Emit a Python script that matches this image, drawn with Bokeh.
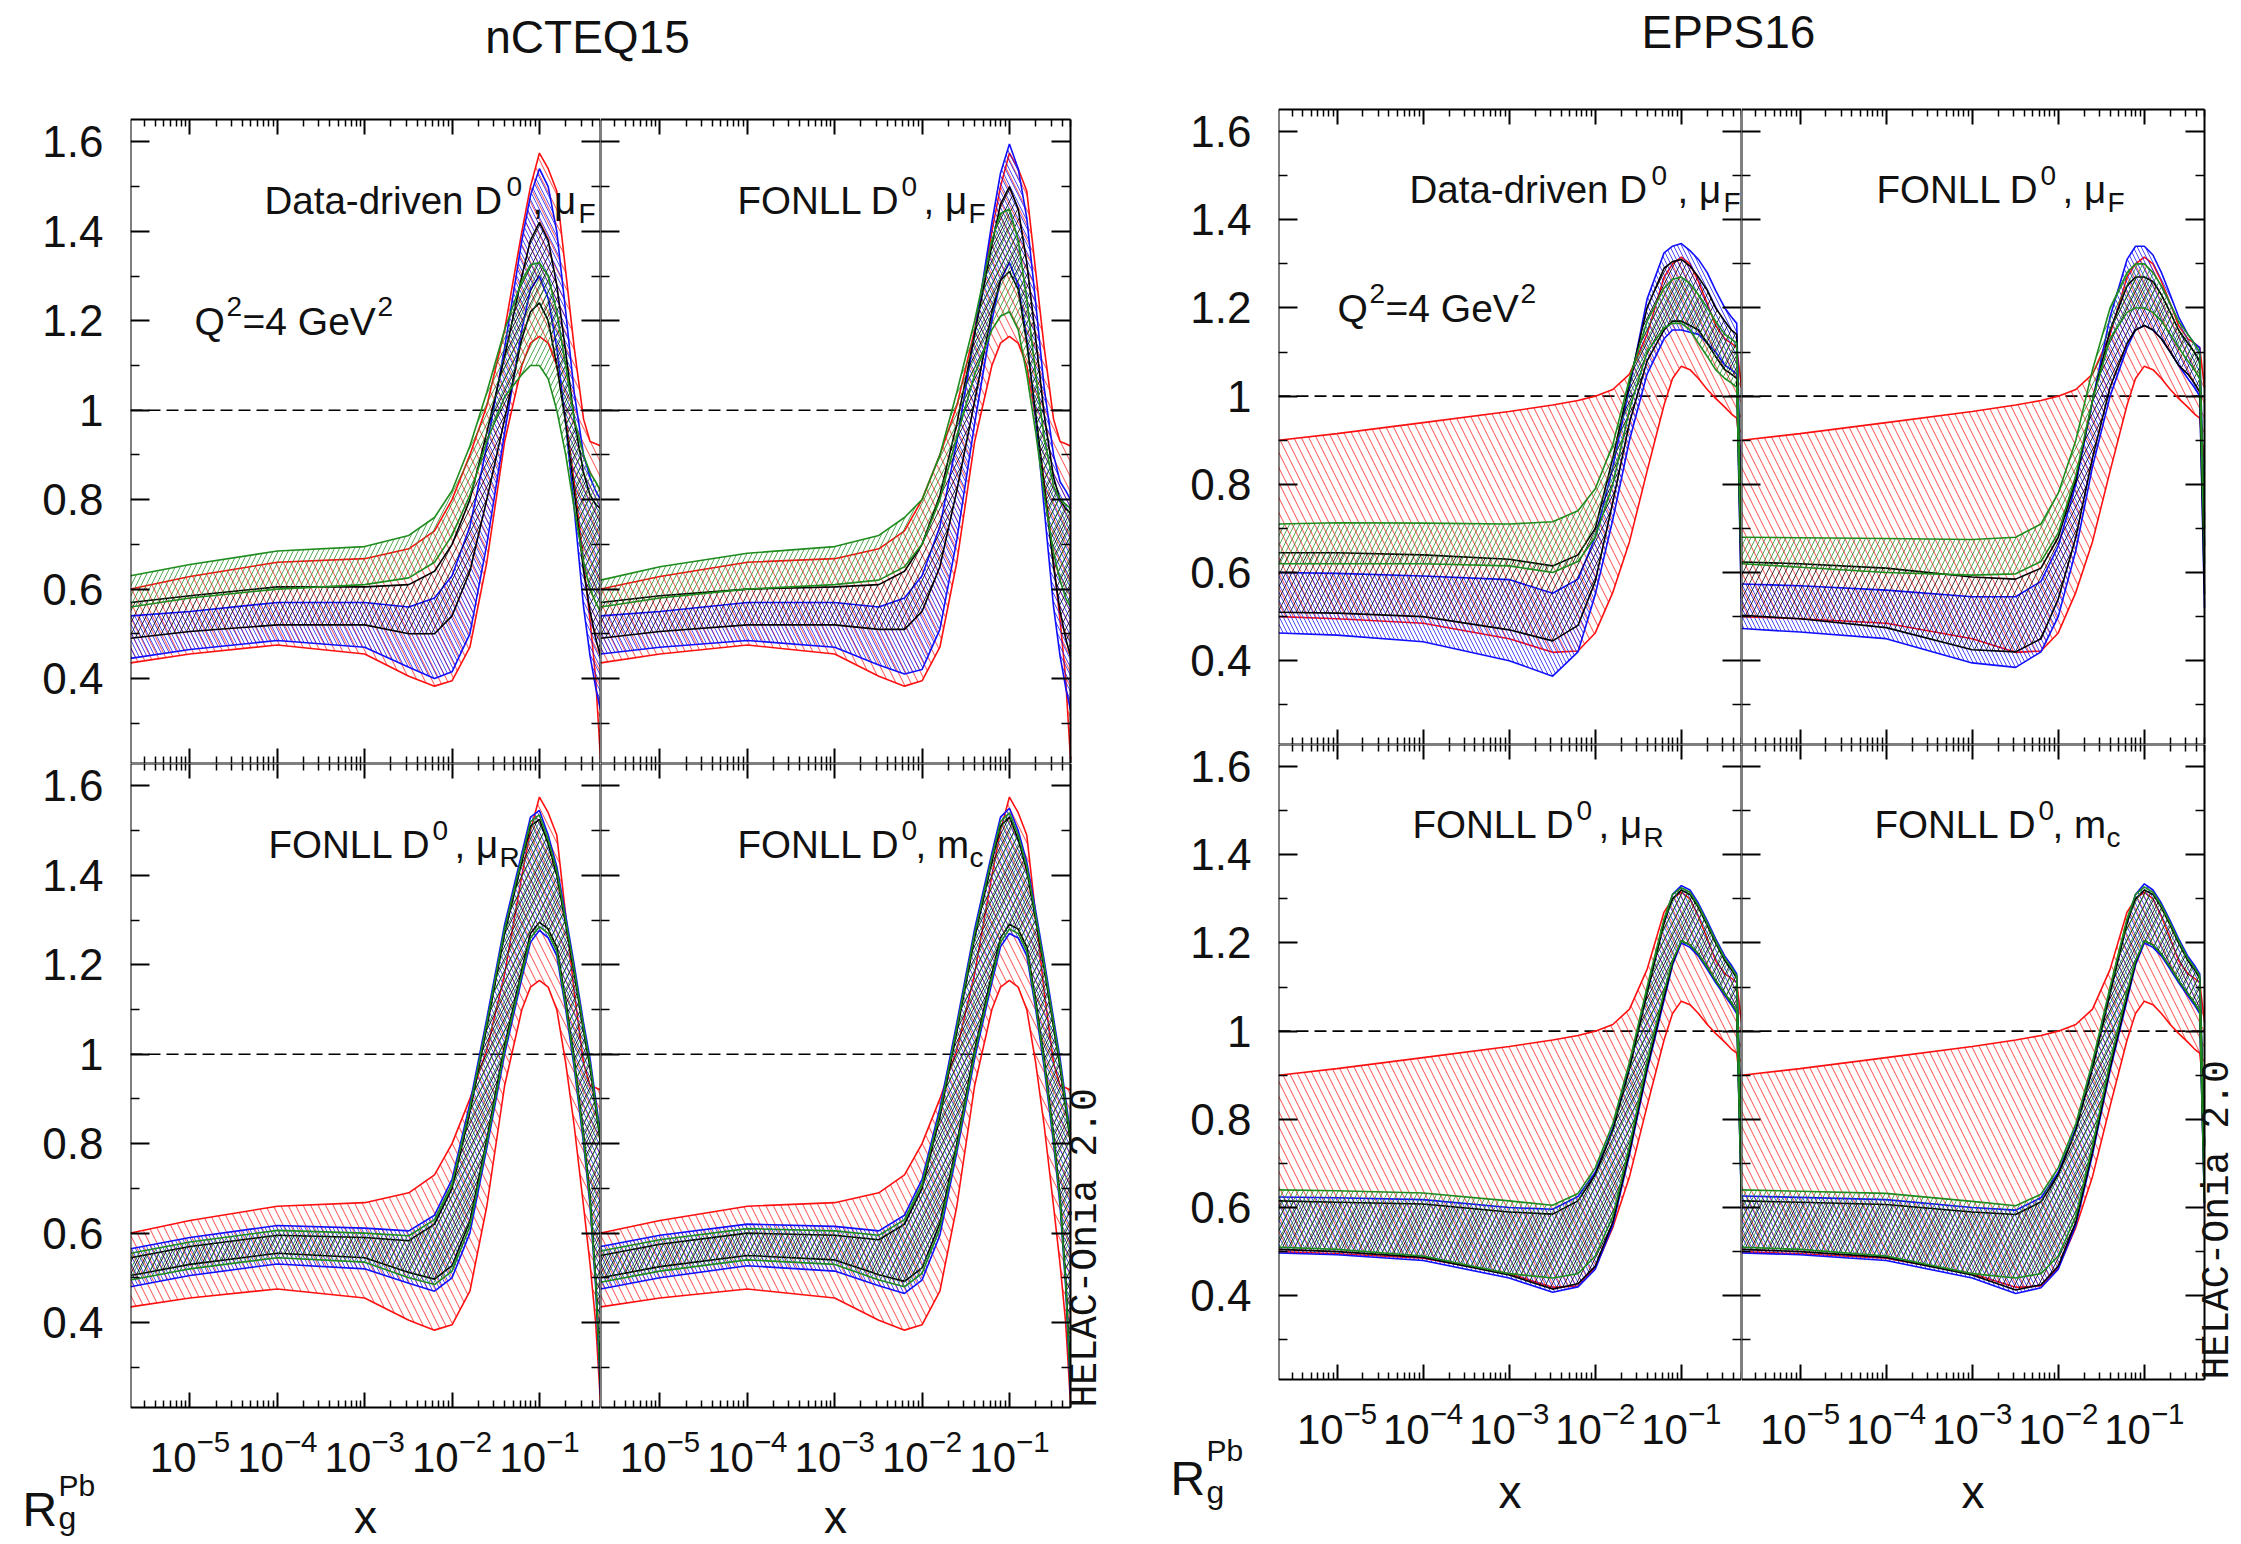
import math
from bokeh.plotting import figure
from bokeh.layouts import row, column
from bokeh.models import Range1d, LogAxis, LinearAxis, FixedTicker, Label
from bokeh.embed import file_html
from bokeh.resources import INLINE

# ---------------- data ----------------
X = [2.1e-6, 1.0e-5, 1.0e-4, 1.0e-3, 3.2e-3, 6.3e-3, 1.0e-2, 1.6e-2, 2.5e-2, 4.0e-2, 6.3e-2,
     7.9e-2, 0.10, 0.126, 0.158, 0.20, 0.25, 0.32, 0.38, 0.44, 0.50]

# nCTEQ15 original (red)
NCTEQ_RED_UP = [0.60, 0.628, 0.66, 0.668, 0.69, 0.73, 0.80, 0.90, 1.01, 1.18, 1.40, 1.50, 1.575, 1.54, 1.49, 1.31, 1.14, 0.98, 0.93, 0.925, 0.92]
NCTEQ_RED_LO = [0.435, 0.455, 0.475, 0.455, 0.405, 0.383, 0.395, 0.47, 0.66, 0.93, 1.10, 1.15, 1.165, 1.15, 1.10, 0.98, 0.84, 0.66, 0.53, 0.40, 0.22]

# nCTEQ15, Data-driven D0, muF
N_DDF_GREEN_UP = [0.63, 0.655, 0.685, 0.695, 0.72, 0.76, 0.82, 0.92, 1.04, 1.18, 1.29, 1.325, 1.33, 1.30, 1.22, 1.10, 0.98, 0.90, 0.86, 0.84, 0.82]
N_DDF_GREEN_LO = [0.56, 0.58, 0.60, 0.61, 0.625, 0.66, 0.72, 0.81, 0.93, 1.03, 1.08, 1.10, 1.10, 1.07, 1.00, 0.90, 0.78, 0.66, 0.60, 0.57, 0.55]
N_DDF_BLACK_UP = [0.57, 0.585, 0.605, 0.605, 0.61, 0.64, 0.70, 0.80, 0.95, 1.12, 1.30, 1.38, 1.42, 1.38, 1.28, 1.13, 0.98, 0.86, 0.81, 0.79, 0.78]
N_DDF_BLACK_LO = [0.49, 0.505, 0.52, 0.52, 0.50, 0.50, 0.54, 0.64, 0.80, 0.98, 1.16, 1.22, 1.24, 1.20, 1.10, 0.97, 0.82, 0.64, 0.55, 0.49, 0.45]
N_DDF_BLUE_UP = [0.54, 0.55, 0.57, 0.57, 0.56, 0.58, 0.63, 0.74, 0.92, 1.14, 1.38, 1.48, 1.54, 1.50, 1.40, 1.22, 1.04, 0.90, 0.85, 0.82, 0.80]
N_DDF_BLUE_LO = [0.445, 0.465, 0.485, 0.47, 0.425, 0.40, 0.415, 0.50, 0.70, 0.95, 1.18, 1.27, 1.30, 1.25, 1.14, 0.97, 0.78, 0.56, 0.45, 0.38, 0.33]

# nCTEQ15, FONLL D0, muF
N_FF_GREEN_UP = [0.62, 0.65, 0.68, 0.695, 0.72, 0.76, 0.80, 0.90, 1.04, 1.20, 1.38, 1.44, 1.45, 1.38, 1.25, 1.08, 0.94, 0.83, 0.80, 0.79, 0.78]
N_FF_GREEN_LO = [0.56, 0.58, 0.60, 0.61, 0.62, 0.65, 0.70, 0.80, 0.94, 1.08, 1.18, 1.21, 1.22, 1.18, 1.08, 0.95, 0.81, 0.68, 0.62, 0.58, 0.56]
N_FF_BLACK_UP = [0.57, 0.585, 0.60, 0.605, 0.61, 0.64, 0.70, 0.81, 0.97, 1.17, 1.37, 1.46, 1.50, 1.45, 1.33, 1.16, 0.99, 0.85, 0.80, 0.78, 0.77]
N_FF_BLACK_LO = [0.49, 0.505, 0.52, 0.52, 0.51, 0.51, 0.55, 0.65, 0.82, 1.02, 1.22, 1.29, 1.31, 1.27, 1.15, 0.99, 0.83, 0.65, 0.55, 0.49, 0.45]
N_FF_BLUE_UP = [0.54, 0.55, 0.57, 0.57, 0.56, 0.58, 0.63, 0.74, 0.93, 1.17, 1.42, 1.53, 1.595, 1.54, 1.43, 1.24, 1.05, 0.90, 0.84, 0.82, 0.80]
N_FF_BLUE_LO = [0.455, 0.47, 0.485, 0.47, 0.43, 0.41, 0.42, 0.51, 0.71, 0.97, 1.20, 1.29, 1.33, 1.28, 1.16, 0.98, 0.78, 0.56, 0.45, 0.38, 0.33]

# nCTEQ15, FONLL D0, muR
N_FR_BLUE_UP = [0.565, 0.59, 0.617, 0.611, 0.605, 0.64, 0.72, 0.89, 1.08, 1.29, 1.45, 1.53, 1.545, 1.49, 1.42, 1.31, 1.20, 1.07, 0.99, 0.90, 0.82]
N_FR_BLUE_LO = [0.48, 0.505, 0.531, 0.52, 0.488, 0.47, 0.50, 0.60, 0.79, 1.00, 1.17, 1.25, 1.277, 1.26, 1.22, 1.10, 0.97, 0.80, 0.66, 0.48, 0.24]
N_FR_GREEN_UP = [0.555, 0.58, 0.606, 0.60, 0.594, 0.63, 0.71, 0.88, 1.07, 1.28, 1.44, 1.52, 1.535, 1.48, 1.41, 1.30, 1.19, 1.06, 0.98, 0.89, 0.81]
N_FR_GREEN_LO = [0.495, 0.52, 0.545, 0.535, 0.50, 0.485, 0.515, 0.615, 0.80, 1.01, 1.18, 1.26, 1.285, 1.27, 1.23, 1.11, 0.98, 0.81, 0.67, 0.49, 0.26]
N_FR_BLACK_UP = [0.545, 0.57, 0.595, 0.59, 0.583, 0.62, 0.70, 0.87, 1.06, 1.27, 1.43, 1.51, 1.525, 1.47, 1.40, 1.29, 1.18, 1.05, 0.97, 0.88, 0.80]
N_FR_BLACK_LO = [0.505, 0.53, 0.555, 0.545, 0.512, 0.497, 0.527, 0.627, 0.81, 1.02, 1.19, 1.27, 1.295, 1.28, 1.24, 1.12, 0.99, 0.82, 0.68, 0.50, 0.27]

# nCTEQ15, FONLL D0, mc
N_FM_BLUE_UP = [0.57, 0.595, 0.62, 0.615, 0.605, 0.64, 0.72, 0.88, 1.07, 1.28, 1.45, 1.53, 1.55, 1.50, 1.43, 1.32, 1.21, 1.08, 0.99, 0.90, 0.82]
N_FM_BLUE_LO = [0.475, 0.50, 0.527, 0.515, 0.482, 0.465, 0.495, 0.595, 0.78, 0.99, 1.16, 1.24, 1.27, 1.26, 1.22, 1.10, 0.97, 0.80, 0.66, 0.48, 0.24]
N_FM_GREEN_UP = [0.56, 0.585, 0.61, 0.605, 0.595, 0.63, 0.71, 0.87, 1.06, 1.27, 1.44, 1.52, 1.54, 1.49, 1.42, 1.31, 1.20, 1.07, 0.98, 0.89, 0.81]
N_FM_GREEN_LO = [0.49, 0.515, 0.54, 0.53, 0.495, 0.48, 0.51, 0.61, 0.79, 1.00, 1.17, 1.25, 1.28, 1.27, 1.23, 1.11, 0.98, 0.81, 0.67, 0.49, 0.26]
N_FM_BLACK_UP = [0.55, 0.575, 0.60, 0.595, 0.585, 0.62, 0.70, 0.86, 1.05, 1.26, 1.43, 1.51, 1.53, 1.48, 1.41, 1.30, 1.19, 1.06, 0.97, 0.88, 0.80]
N_FM_BLACK_LO = [0.50, 0.525, 0.55, 0.54, 0.507, 0.492, 0.522, 0.622, 0.80, 1.01, 1.18, 1.26, 1.29, 1.28, 1.24, 1.12, 0.99, 0.82, 0.68, 0.50, 0.27]

# EPPS16 original (red)
EPPS_RED_UP = [0.90, 0.915, 0.94, 0.965, 0.98, 0.99, 1.0, 1.015, 1.05, 1.14, 1.27, 1.30, 1.315, 1.30, 1.26, 1.21, 1.16, 1.13, 1.12, 1.11, 1.02]
EPPS_RED_LO = [0.50, 0.495, 0.485, 0.45, 0.419, 0.422, 0.463, 0.555, 0.67, 0.83, 0.98, 1.04, 1.068, 1.06, 1.04, 1.015, 0.995, 0.975, 0.96, 0.95, 0.85]

# EPPS16, Data-driven D0, muF
E_DDF_BLUE_UP = [0.60, 0.598, 0.592, 0.584, 0.553, 0.585, 0.68, 0.84, 1.02, 1.22, 1.325, 1.34, 1.346, 1.33, 1.31, 1.28, 1.24, 1.20, 1.18, 1.165, 0.72]
E_DDF_BLUE_LO = [0.463, 0.458, 0.443, 0.40, 0.365, 0.42, 0.55, 0.72, 0.90, 1.05, 1.13, 1.15, 1.15, 1.145, 1.14, 1.12, 1.10, 1.07, 1.06, 1.05, 0.50]
E_DDF_GREEN_UP = [0.71, 0.713, 0.712, 0.71, 0.715, 0.74, 0.79, 0.89, 1.04, 1.17, 1.245, 1.265, 1.27, 1.255, 1.23, 1.20, 1.17, 1.14, 1.13, 1.12, 0.68]
E_DDF_GREEN_LO = [0.62, 0.62, 0.62, 0.615, 0.60, 0.625, 0.68, 0.80, 0.97, 1.10, 1.155, 1.165, 1.165, 1.15, 1.12, 1.09, 1.06, 1.04, 1.03, 1.02, 0.60]
E_DDF_BLACK_UP = [0.645, 0.645, 0.64, 0.63, 0.615, 0.64, 0.70, 0.86, 1.03, 1.20, 1.29, 1.305, 1.31, 1.295, 1.27, 1.24, 1.20, 1.17, 1.15, 1.14, 0.66]
E_DDF_BLACK_LO = [0.51, 0.508, 0.50, 0.47, 0.445, 0.48, 0.58, 0.76, 0.94, 1.08, 1.15, 1.17, 1.17, 1.16, 1.15, 1.12, 1.09, 1.06, 1.05, 1.04, 0.54]

# EPPS16, FONLL D0, muF
E_FF_GREEN_UP = [0.68, 0.679, 0.677, 0.675, 0.68, 0.71, 0.78, 0.90, 1.06, 1.20, 1.28, 1.30, 1.30, 1.28, 1.25, 1.21, 1.17, 1.14, 1.12, 1.10, 0.70]
E_FF_GREEN_LO = [0.62, 0.612, 0.60, 0.594, 0.597, 0.625, 0.69, 0.82, 0.99, 1.13, 1.19, 1.20, 1.20, 1.19, 1.17, 1.14, 1.11, 1.08, 1.06, 1.04, 0.62]
E_FF_BLACK_UP = [0.624, 0.62, 0.61, 0.59, 0.585, 0.61, 0.68, 0.81, 0.99, 1.15, 1.25, 1.27, 1.27, 1.26, 1.23, 1.19, 1.15, 1.12, 1.10, 1.08, 0.66]
E_FF_BLACK_LO = [0.503, 0.495, 0.475, 0.425, 0.42, 0.45, 0.54, 0.68, 0.86, 1.02, 1.12, 1.15, 1.16, 1.15, 1.13, 1.10, 1.07, 1.05, 1.03, 1.01, 0.55]
E_FF_BLUE_UP = [0.574, 0.57, 0.56, 0.545, 0.545, 0.58, 0.66, 0.80, 0.99, 1.18, 1.31, 1.34, 1.34, 1.32, 1.28, 1.23, 1.18, 1.14, 1.12, 1.11, 0.72]
E_FF_BLUE_LO = [0.473, 0.465, 0.45, 0.395, 0.385, 0.42, 0.50, 0.65, 0.84, 1.00, 1.11, 1.15, 1.16, 1.15, 1.13, 1.10, 1.07, 1.04, 1.02, 1.00, 0.52]

# EPPS16, FONLL D0, muR
E_FR_BLUE_UP = [0.624, 0.622, 0.618, 0.60, 0.596, 0.625, 0.68, 0.78, 0.92, 1.09, 1.25, 1.31, 1.33, 1.32, 1.29, 1.25, 1.21, 1.17, 1.15, 1.13, 0.75]
E_FR_BLUE_LO = [0.497, 0.493, 0.48, 0.44, 0.408, 0.42, 0.46, 0.56, 0.72, 0.91, 1.07, 1.15, 1.20, 1.19, 1.17, 1.14, 1.11, 1.08, 1.06, 1.04, 0.60]
E_FR_GREEN_UP = [0.64, 0.638, 0.633, 0.615, 0.605, 0.632, 0.69, 0.79, 0.93, 1.10, 1.255, 1.31, 1.325, 1.315, 1.285, 1.245, 1.205, 1.165, 1.145, 1.125, 0.74]
E_FR_GREEN_LO = [0.51, 0.505, 0.49, 0.45, 0.44, 0.45, 0.49, 0.58, 0.74, 0.93, 1.09, 1.16, 1.205, 1.195, 1.175, 1.145, 1.115, 1.085, 1.065, 1.045, 0.61]
E_FR_BLACK_UP = [0.615, 0.612, 0.608, 0.59, 0.585, 0.615, 0.675, 0.775, 0.915, 1.085, 1.245, 1.30, 1.32, 1.31, 1.28, 1.24, 1.20, 1.16, 1.14, 1.12, 0.74]
E_FR_BLACK_LO = [0.505, 0.50, 0.487, 0.447, 0.415, 0.427, 0.467, 0.567, 0.727, 0.917, 1.077, 1.155, 1.205, 1.195, 1.175, 1.145, 1.115, 1.085, 1.065, 1.045, 0.61]

# EPPS16, FONLL D0, mc
E_FM_BLUE_UP = [0.626, 0.623, 0.618, 0.60, 0.594, 0.622, 0.68, 0.78, 0.92, 1.09, 1.25, 1.31, 1.334, 1.32, 1.29, 1.25, 1.21, 1.17, 1.15, 1.13, 0.75]
E_FM_BLUE_LO = [0.497, 0.493, 0.48, 0.44, 0.405, 0.418, 0.46, 0.56, 0.72, 0.91, 1.07, 1.15, 1.20, 1.19, 1.17, 1.14, 1.11, 1.08, 1.06, 1.04, 0.60]
E_FM_GREEN_UP = [0.64, 0.637, 0.632, 0.614, 0.604, 0.63, 0.69, 0.79, 0.93, 1.10, 1.255, 1.31, 1.327, 1.315, 1.285, 1.245, 1.205, 1.165, 1.145, 1.125, 0.74]
E_FM_GREEN_LO = [0.51, 0.505, 0.49, 0.45, 0.44, 0.45, 0.49, 0.58, 0.74, 0.93, 1.09, 1.16, 1.205, 1.195, 1.175, 1.145, 1.115, 1.085, 1.065, 1.045, 0.61]
E_FM_BLACK_UP = [0.615, 0.612, 0.607, 0.59, 0.584, 0.613, 0.675, 0.775, 0.915, 1.085, 1.245, 1.30, 1.32, 1.31, 1.28, 1.24, 1.20, 1.16, 1.14, 1.12, 0.74]
E_FM_BLACK_LO = [0.505, 0.50, 0.487, 0.447, 0.413, 0.425, 0.467, 0.567, 0.727, 0.917, 1.077, 1.155, 1.205, 1.195, 1.175, 1.145, 1.115, 1.085, 1.065, 1.045, 0.61]

TITLES = ["nCTEQ15", "EPPS16"]
Y_TICKS = [0.4, 0.6, 0.8, 1.0, 1.2, 1.4, 1.6]
Y_TICK_LABELS = ["0.4", "0.6", "0.8", "1", "1.2", "1.4", "1.6"]
Y_MINOR = [0.3, 0.5, 0.7, 0.9, 1.1, 1.3, 1.5]
X_TICKS = [1e-5, 1e-4, 1e-3, 1e-2, 1e-1]
REF_Y = 1.0

# ---------------- styling ----------------
FONT = "Liberation Sans"
MONO = "Liberation Mono"
TXT = "#111111"
C_RED, C_BLUE, C_GREEN, C_BLACK = "#ff1010", "#1010ff", "#1e8c1e", "#000000"
X_LO, X_HI = 2.09e-6, 0.5
Y_LO, Y_HI = 0.21, 1.65
X_MINOR = [m * 10.0 ** e for e in range(-6, 0) for m in range(2, 10) if X_LO <= m * 10.0 ** e <= X_HI]
PAGE_H = 1544
TITLE_H = 100
MID = 0.3465   # distance baseline -> em-box middle, in em


def base_fig(w, h, xr, yr, **kw):
    f = figure(frame_width=w, frame_height=h, x_range=xr, y_range=yr,
               x_axis_location=None, y_axis_location=None, toolbar_location=None, tools="",
               output_backend="svg", min_border=0, background_fill_color="white",
               border_fill_color="white", **kw)
    f.outline_line_color = None
    f.grid.visible = False
    return f


def style_axis(ax, tick_in, labels, size, standoff):
    ax.axis_line_color = "black"
    ax.axis_line_width = 2
    ax.major_tick_line_color = "black"
    ax.major_tick_line_width = 2
    ax.minor_tick_line_color = "black"
    ax.minor_tick_line_width = 1.5
    ax.major_tick_in = tick_in
    ax.major_tick_out = 0
    ax.minor_tick_in = tick_in // 2
    ax.minor_tick_out = 0
    ax.axis_label = None
    if labels:
        ax.major_label_text_font = FONT
        ax.major_label_text_font_size = size
        ax.major_label_text_color = TXT
        ax.major_label_standoff = standoff
    else:
        ax.major_label_text_color = None
        ax.major_label_text_font_size = "0px"
        ax.major_label_standoff = 0


def make_panel(fw, fh, pad_r, pad_t, pad_b, xlab):
    """One panel; the frame covers the whole canvas, the panel box sits inside it."""
    lx0, lx1 = math.log10(X_LO), math.log10(X_HI)
    kx = fw / (lx1 - lx0)
    ky = fh / (Y_HI - Y_LO)
    xr = Range1d(X_LO, 10 ** (lx1 + pad_r / kx))
    yr = Range1d(Y_LO - pad_b / ky, Y_HI + pad_t / ky)
    p = base_fig(fw + pad_r, pad_t + fh + pad_b, xr, yr, x_axis_type="log")
    for loc, yloc, lab in (("below", Y_LO, xlab), ("above", Y_HI, False)):
        ax = LogAxis(ticker=FixedTicker(ticks=X_TICKS, minor_ticks=X_MINOR),
                     fixed_location=yloc, bounds=(X_LO, X_HI))
        style_axis(ax, 15, lab, "42px", 21)
        p.add_layout(ax, loc)
    for loc, xloc in (("left", X_LO), ("right", X_HI)):
        ax = LinearAxis(ticker=FixedTicker(ticks=Y_TICKS, minor_ticks=Y_MINOR),
                        fixed_location=xloc, bounds=(Y_LO, Y_HI))
        style_axis(ax, 19, False, "44px", 0)
        p.add_layout(ax, loc)
    p.line([X_LO, X_HI], [REF_Y, REF_Y], line_color="black", line_dash="12 6", line_width=1.6)
    return p


def ylab_fig(w, top_page, bot_page, frame_top, k):
    """Strip left of the panels that carries the y tick labels (same scale as the panel)."""
    yr = Range1d(Y_HI - (bot_page - frame_top) / k, Y_HI + (frame_top - top_page) / k)
    f = base_fig(w, bot_page - top_page, Range1d(0, w), yr)
    ax = LinearAxis(ticker=FixedTicker(ticks=Y_TICKS, minor_ticks=[]),
                    major_label_overrides=dict(zip(Y_TICKS, Y_TICK_LABELS)), fixed_location=w)
    ax.axis_line_color = None
    ax.major_tick_line_color = None
    ax.minor_tick_line_color = None
    ax.major_tick_in = 0
    ax.major_tick_out = 0
    ax.major_label_text_font = FONT
    ax.major_label_text_font_size = "44px"
    ax.major_label_text_color = TXT
    ax.major_label_standoff = 27
    f.add_layout(ax, "left")
    return f


def band(p, lo, up, color, pattern, scale):
    p.varea(x=X, y1=lo, y2=up, fill_color=color, fill_alpha=0.0,
            hatch_pattern=pattern, hatch_color=color, hatch_scale=scale,
            hatch_weight=1.0, hatch_alpha=0.75)
    p.line(X, up, line_color=color, line_width=1.6)
    p.line(X, lo, line_color=color, line_width=1.6)


def txt(p, text, x, y, size, dx=0, dy=0, align="left", font=FONT, angle=0.0, on_baseline=True):
    """Place text; dy gives the baseline offset (px), converted to an em-box middle anchor."""
    if on_baseline:
        dy = dy + MID * size
    p.add_layout(Label(x=x, y=y, x_offset=dx, y_offset=dy, text=text,
                       text_font=font, text_font_size=f"{size}px", text_color=TXT,
                       text_align=align, text_baseline="middle", angle=angle, angle_units="deg"))


def panel_label(p, kind, start):
    y = 1.438
    if kind == "DD_F":
        parts = [("Data-driven D", 0, 0, 38.5), ("0", 242, 18, 28), (", \u03bc", 268, 0, 38.5), ("F", 314, -9, 28)]
    elif kind == "FO_F":
        parts = [("FONLL D", 0, 0, 38.5), ("0", 164, 18, 28), (", \u03bc", 186, 0, 38.5), ("F", 231, -9, 28)]
    elif kind == "FO_R":
        parts = [("FONLL D", 0, 0, 38.5), ("0", 164, 18, 28), (", \u03bc", 186, 0, 38.5), ("R", 231, -9, 28)]
    else:
        parts = [("FONLL D", 0, 0, 38.5), ("0", 164, 18, 28), (", m", 178, 0, 38.5), ("c", 232, -9, 28)]
    for t, dx, dy, s in parts:
        txt(p, t, X_LO, y, s, dx=start + dx, dy=dy)


def q2_label(p, start):
    for t, dx, dy, s in [("Q", 0, 0, 39), ("2", 32, 19, 28), ("=4 GeV", 48, 0, 39), ("2", 183, 19, 28)]:
        txt(p, t, X_LO, 1.167, s, dx=start + dx, dy=dy)


def fill_panel(p, red, bands, kind, start, q2start=None):
    band(p, red[1], red[0], C_RED, "\\", 15)
    for (up, lo), col, pat, sc in zip(bands, (C_BLUE, C_BLACK, C_GREEN), ("\\", "/", "/"), (8, 12, 10)):
        band(p, lo, up, col, pat, sc)
    panel_label(p, kind, start)
    if q2start is not None:
        q2_label(p, q2start)


def group(frame_top, fw, fh, pad_l, pad_r, split, red, panels, starts, q2start, rlab, xlab, helac_dx):
    pad_t = frame_top - TITLE_H
    pad_b = PAGE_H - (frame_top + 2 * fh)
    k = fh / (Y_HI - Y_LO)
    a_top = ylab_fig(pad_l, TITLE_H, split, frame_top, k)
    a_bot = ylab_fig(pad_l, split, PAGE_H, frame_top + fh, k)
    tl = make_panel(fw, fh, 0, pad_t, 0, False)
    tr = make_panel(fw, fh, pad_r, pad_t, 0, False)
    bl = make_panel(fw, fh, 0, 0, pad_b, True)
    br = make_panel(fw, fh, pad_r, 0, pad_b, True)
    for i, (p, (bands, kind), st) in enumerate(zip((tl, tr, bl, br), panels, starts)):
        fill_panel(p, red, bands, kind, st, q2start if i == 0 else None)
    xsize, xdy = xlab
    for p in (bl, br):
        txt(p, "x", X_LO, Y_LO, xsize, dx=fw / 2, dy=xdy, align="center")
    (rx, rdy), (px_, pdy), (gx, gdy) = rlab
    txt(a_bot, "R", rx, Y_LO, 48, dy=rdy)
    txt(a_bot, "Pb", px_, Y_LO, 30, dy=pdy)
    txt(a_bot, "g", gx, Y_LO, 32, dy=gdy)
    txt(br, "HELAC-Onia 2.0", X_HI, Y_LO, 38, dx=helac_dx, align="left",
        font=MONO, angle=90, on_baseline=False)
    return row(column(a_top, a_bot), column(row(tl, tr), row(bl, br)))


n_red = (NCTEQ_RED_UP, NCTEQ_RED_LO)
n_panels = [([(N_DDF_BLUE_UP, N_DDF_BLUE_LO), (N_DDF_BLACK_UP, N_DDF_BLACK_LO), (N_DDF_GREEN_UP, N_DDF_GREEN_LO)], "DD_F"),
            ([(N_FF_BLUE_UP, N_FF_BLUE_LO), (N_FF_BLACK_UP, N_FF_BLACK_LO), (N_FF_GREEN_UP, N_FF_GREEN_LO)], "FO_F"),
            ([(N_FR_BLUE_UP, N_FR_BLUE_LO), (N_FR_BLACK_UP, N_FR_BLACK_LO), (N_FR_GREEN_UP, N_FR_GREEN_LO)], "FO_R"),
            ([(N_FM_BLUE_UP, N_FM_BLUE_LO), (N_FM_BLACK_UP, N_FM_BLACK_LO), (N_FM_GREEN_UP, N_FM_GREEN_LO)], "FO_M")]
e_red = (EPPS_RED_UP, EPPS_RED_LO)
e_panels = [([(E_DDF_BLUE_UP, E_DDF_BLUE_LO), (E_DDF_BLACK_UP, E_DDF_BLACK_LO), (E_DDF_GREEN_UP, E_DDF_GREEN_LO)], "DD_F"),
            ([(E_FF_BLUE_UP, E_FF_BLUE_LO), (E_FF_BLACK_UP, E_FF_BLACK_LO), (E_FF_GREEN_UP, E_FF_GREEN_LO)], "FO_F"),
            ([(E_FR_BLUE_UP, E_FR_BLUE_LO), (E_FR_BLACK_UP, E_FR_BLACK_LO), (E_FR_GREEN_UP, E_FR_GREEN_LO)], "FO_R"),
            ([(E_FM_BLUE_UP, E_FM_BLUE_LO), (E_FM_BLACK_UP, E_FM_BLACK_LO), (E_FM_GREEN_UP, E_FM_GREEN_LO)], "FO_M")]

# left group: panels 470x644 at x 130..1070, y 119..1407 ; canvases x 0..1110
left = group(119, 470, 644, 130, 40, 735, n_red, n_panels, (134, 137, 138, 137), 64,
             ((22, -119), (58, -88), (58, -122)), (46, -125), 15)
# right group: panels 463x635 at x 1278..2204, y 109..1379 ; canvases x 1110..2241
right = group(109, 463, 635, 168, 37, 713, e_red, e_panels, (131, 135, 134, 133), 59,
              ((60, -116), (96, -81), (96, -124)), (46, -128), 13)

tfig = base_fig(2241, TITLE_H, Range1d(0, 2241), Range1d(TITLE_H, 0))
for t, cx, cy in zip(TITLES, (587, 1728), (36, 31)):
    tfig.add_layout(Label(x=cx, y=cy, text=t, text_font=FONT, text_font_size="46px", text_color=TXT,
                          text_align="center", text_baseline="middle"))

page = column(tfig, row(left, right))
open("out.html", "w").write(file_html(page, INLINE))
